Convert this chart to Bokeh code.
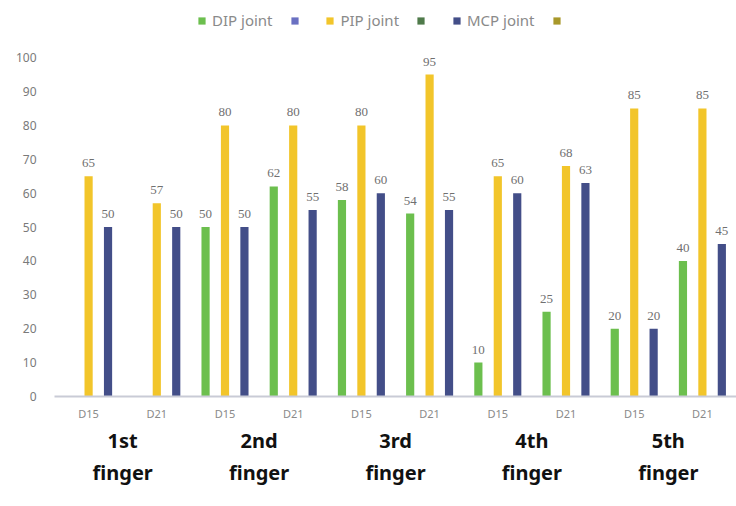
from bokeh.plotting import figure
from bokeh.models import FactorRange, ColumnDataSource, Legend, LegendItem, FixedTicker, Range1d
from bokeh.transform import dodge
from bokeh.embed import file_html
from bokeh.resources import INLINE

fingers = ["1st\nfinger", "2nd\nfinger", "3rd\nfinger", "4th\nfinger", "5th\nfinger"]
days = ["D15", "D21"]
dip = [None, None, 50, 62, 58, 54, 10, 25, 20, 40]
pip = [65, 57, 80, 80, 80, 95, 65, 68, 85, 85]
mcp = [50, 50, 50, 55, 60, 55, 60, 63, 20, 45]
y_ticks = [0, 10, 20, 30, 40, 50, 60, 70, 80, 90, 100]

factors = [(f, d) for f in fingers for d in days]

p = figure(width=736, height=506, x_range=FactorRange(*factors, factor_padding=0, group_padding=0,
           range_padding=0), y_range=Range1d(0, 114.5), output_backend="svg", toolbar_location=None,
           min_border_left=54, min_border_right=0, min_border_top=8, min_border_bottom=110)

GREEN, YELLOW, NAVY = "#6cbf4e", "#f2c52a", "#434e88"
series = [("DIP joint", dip, GREEN, -0.285), ("PIP joint", pip, YELLOW, 0.0), ("MCP joint", mcp, NAVY, 0.285)]
rends = {}
for name, vals, col, off in series:
    xs = [f for f, v in zip(factors, vals) if v is not None]
    ys = [v for v in vals if v is not None]
    src = ColumnDataSource(dict(x=xs, top=ys, lab=[str(v) for v in ys]))
    r = p.vbar(x=dodge("x", off, range=p.x_range), top="top", width=0.12, source=src,
               color=col, line_color=None)
    rends[name] = r
    p.text(x=dodge("x", off, range=p.x_range), y="top", text="lab", source=src,
           text_align="center", text_baseline="bottom", y_offset=-9,
           text_font_size="13px", text_color="#707070", text_font="Noto Sans")

# extra legend swatches (unlabelled in the original), kept below the visible range
extra = {}
for key, col in [("b", "#6a70c2"), ("dg", "#4f7a4a"), ("ol", "#a8982a")]:
    extra[key] = p.vbar(x=[factors[0]], top=[-50], bottom=[-60], width=0.1, color=col, line_color=None)

items = [LegendItem(label="DIP joint", renderers=[rends["DIP joint"]]),
         LegendItem(label="\u00a0", renderers=[extra["b"]]),
         LegendItem(label="PIP joint", renderers=[rends["PIP joint"]]),
         LegendItem(label="\u00a0", renderers=[extra["dg"]]),
         LegendItem(label="MCP joint", renderers=[rends["MCP joint"]]),
         LegendItem(label="\u00a0", renderers=[extra["ol"]])]
legend = Legend(items=items, orientation="horizontal", location=(143, 366),
                label_text_font_size="15px", label_text_color="#8a8a8a", label_text_font="Noto Sans",
                glyph_width=9, glyph_height=9, spacing=17, label_standoff=6, label_width=0,
                padding=2, margin=0, border_line_color=None, background_fill_alpha=0)
p.add_layout(legend, "center")

p.xgrid.grid_line_color = None
p.ygrid.grid_line_color = None
p.outline_line_color = None

p.yaxis.ticker = FixedTicker(ticks=y_ticks)
p.yaxis.axis_line_color = None
p.yaxis.major_tick_line_color = None
p.yaxis.minor_tick_line_color = None
p.yaxis.major_label_text_font_size = "12px"
p.yaxis.major_label_text_color = "#7a7a7a"
p.yaxis.major_label_text_font = "Noto Sans"
p.yaxis.major_label_standoff = 12

p.xaxis.axis_line_color = "#c9cbd6"
p.xaxis.axis_line_width = 2
p.xaxis.major_tick_line_color = None
p.xaxis.minor_tick_line_color = None
p.xaxis.major_label_text_font_size = "11px"
p.xaxis.major_label_text_color = "#8a8a8a"
p.xaxis.major_label_text_font = "Noto Sans"
p.xaxis.major_label_standoff = 3
p.xaxis.group_text_font_size = "20px"
p.xaxis.group_text_font_style = "bold"
p.xaxis.group_text_color = "#111111"
p.xaxis.group_text_font = "Noto Sans"
p.xaxis.group_label_orientation = "horizontal"
p.xaxis.separator_line_color = None

open("out.html", "w").write(file_html(p, INLINE))
